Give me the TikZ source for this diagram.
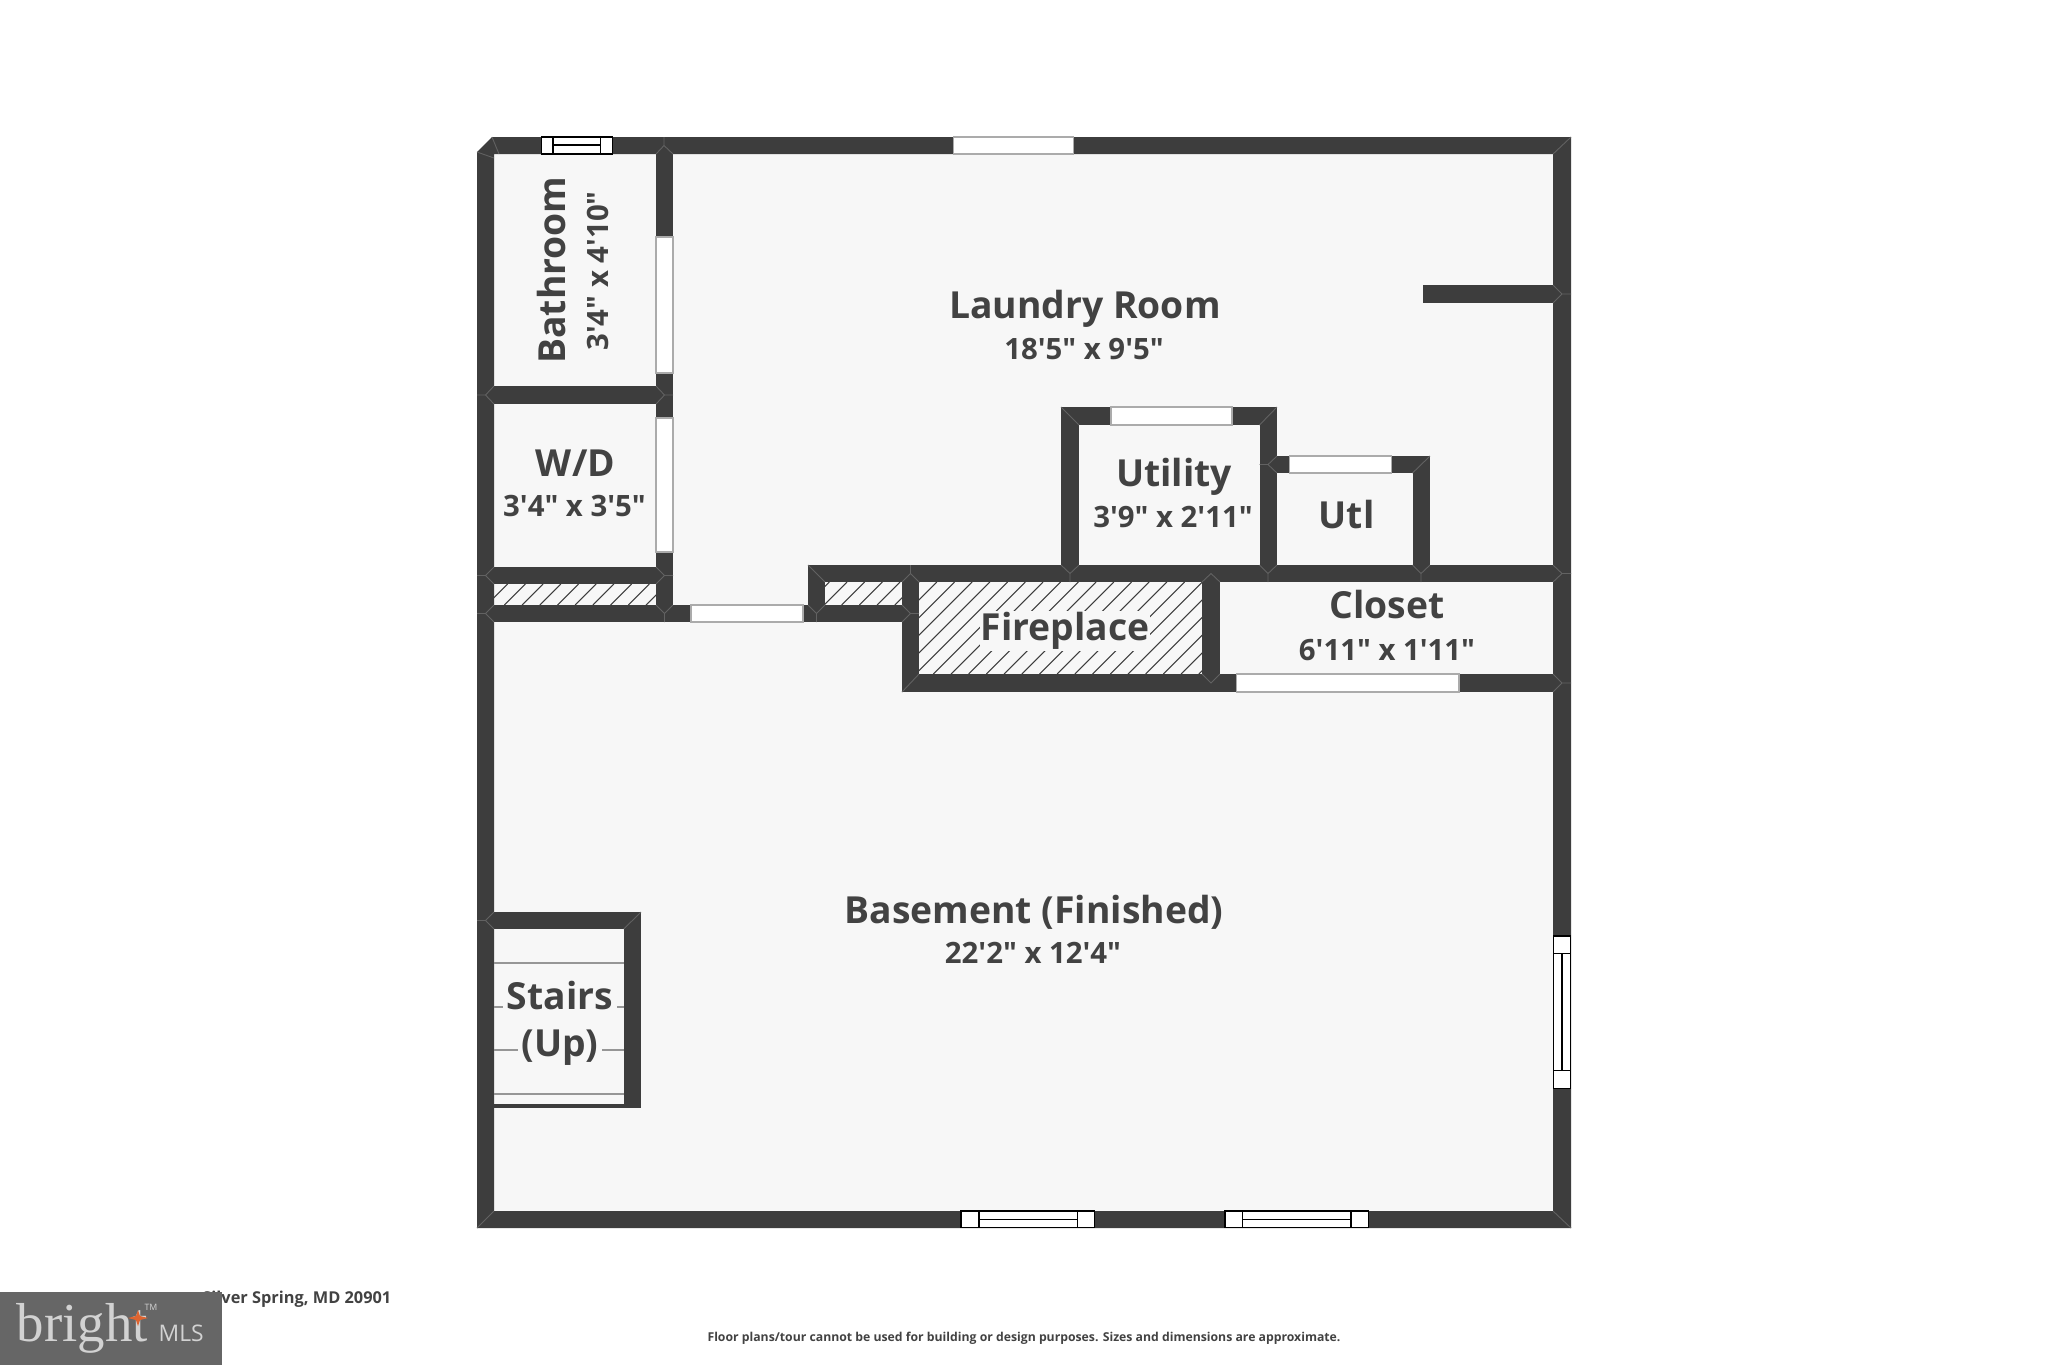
\documentclass[tikz,border=0pt]{standalone}
\usepackage{fontspec}
\newfontfamily\planfont{Open Sans}
\newfontfamily\logofont{Liberation Serif}
\definecolor{wallcol}{HTML}{3D3D3D}
\definecolor{floorcol}{HTML}{F7F7F7}
\definecolor{textcol}{HTML}{424242}
\definecolor{doorcol}{HTML}{ABABAB}
\definecolor{jointcol}{HTML}{626262}
\definecolor{stepcol}{HTML}{969696}
\definecolor{logocol}{HTML}{666666}
\definecolor{logotext}{HTML}{D2D2D2}
\definecolor{logostar}{HTML}{DE6430}
\tikzset{
  wall/.style={fill=wallcol,draw=none},
  joint/.style={draw=jointcol,line width=0.25pt},
  doorway/.style={fill=white,draw=doorcol,line width=0.45pt},
  glass/.style={fill=white,draw=black,line width=0.4pt},
  stair/.style={draw=stepcol,line width=0.6pt},
  hatchline/.style={draw=wallcol,line width=0.3pt},
  roomname/.style={text=textcol,inner sep=0pt,font=\planfont\bfseries\fontsize{10.6}{12}\selectfont},
  roomsize/.style={text=textcol,inner sep=0pt,font=\planfont\bfseries\fontsize{8.35}{10}\selectfont},
}
% one hatched box: x1, y1, x2, y2, start value of x+y
\newcommand{\hatchbox}[5]{
  \begin{scope}
    \clip (#1,#2) rectangle (#3,#4);
    \foreach \hk in {0,...,46} {
      \pgfmathsetmacro{\hs}{#5+17.7*\hk}
      \draw[hatchline] ({\hs-#4},#4) -- ({\hs-#2},#2);
    }
  \end{scope}
}

\begin{document}
\begin{tikzpicture}[x=0.01cm,y=-0.01cm]
        \useasboundingbox (0,0) rectangle (2048,1365);
        % floor
        \fill[floorcol] (477,152) -- (492,137) -- (1571,137) -- (1571,1228) -- (477,1228) -- cycle;
        % hatching
        \hatchbox{494}{584}{656}{605}{1074}
        \hatchbox{825}{582}{902}{605}{1075}
        \hatchbox{919}{582}{1203}{674}{1076.3}
        % outer walls
        \fill[wall] (477,152) -- (492,137) -- (1571,137) -- (1571,1228) -- (477,1228) -- cycle
                    (494,154) -- (494,1211) -- (1553,1211) -- (1553,154) -- cycle;
        % bathroom and washer walls
        \fill[wall] (656,154) rectangle (673,622);
        \fill[wall] (494,386) rectangle (656,404);
        \fill[wall] (494,567) rectangle (656,584);
        \fill[wall] (494,605) rectangle (808,622);
        % walls round the fireplace
        \fill[wall] (808,565) rectangle (825,622);
        \fill[wall] (808,565) rectangle (1553,582);
        \fill[wall] (825,605) rectangle (902,622);
        \fill[wall] (902,565) rectangle (919,692);
        \fill[wall] (902,674) rectangle (1220,692);
        \fill[wall] (1202,565) rectangle (1220,692);
        \fill[wall] (1220,674) rectangle (1553,692);
        % utility closets
        \fill[wall] (1061,407) rectangle (1277,425);
        \fill[wall] (1061,407) rectangle (1079,565);
        \fill[wall] (1259.5,407) rectangle (1277,565);
        \fill[wall] (1277,456) rectangle (1430,473);
        \fill[wall] (1412.5,456) rectangle (1430,565);
        % stub and stairs
        \fill[wall] (1423,285) rectangle (1553,303);
        \fill[wall] (494,912) rectangle (641,929);
        \fill[wall] (623.7,912) rectangle (641,1108);
        \fill[wall] (494,1104) rectangle (641,1108);
        % stair treads
        \draw[stair] (494,962.7) -- (623.7,962.7);
        \draw[stair] (494,1006.7) -- (623.7,1006.7);
        \draw[stair] (494,1050) -- (623.7,1050);
        \draw[stair] (494,1093.7) -- (623.7,1093.7);
        % joints in the walls
        \draw[joint] (1553,154) -- (1571,137) (494,1211) -- (477,1228) (1553,1211) -- (1571,1228)
          (664,137) -- (664,145.5) (656,154) -- (664,145.5) -- (673,154)
          (477,395) -- (485.5,395) (494,386) -- (485.5,395) -- (494,404)
          (656,386) -- (664.5,395) -- (656,404) (664.5,395) -- (673,395)
          (477,575.5) -- (485.5,575.5) (494,567) -- (485.5,575.5) -- (494,584)
          (656,567) -- (664.5,575.5) -- (656,584) (664.5,575.5) -- (673,575.5)
          (477,613.5) -- (485.5,613.5) (494,605) -- (485.5,613.5) -- (494,622)
          (656,605) -- (664.5,613.5) -- (673,605) (664.5,613.5) -- (664.5,622)
          (808,565) -- (825,582) (825,605) -- (816.5,613.5) -- (808,605) (816.5,613.5) -- (816.5,622)
          (910.5,565) -- (910.5,573.5) (902,582) -- (910.5,573.5) -- (919,582)
          (902,605) -- (910.5,613.5) -- (902,622) (910.5,613.5) -- (919,613.5)
          (902,692) -- (919,674)
          (1202,582) -- (1211,573.5) -- (1220,582) (1202,674) -- (1211,683) -- (1220,674)
          (1061,565) -- (1070,573.5) -- (1079,565) (1070,573.5) -- (1070,582)
          (1259.5,565) -- (1268,573.5) -- (1277,565) (1268,573.5) -- (1268,582)
          (1412.5,565) -- (1421,573.5) -- (1430,565) (1421,573.5) -- (1421,582)
          (1553,565) -- (1562,573.5) -- (1553,582) (1562,573.5) -- (1571,573.5)
          (1553,674) -- (1562,683) -- (1553,692) (1562,683) -- (1571,683)
          (1553,285) -- (1562,294) -- (1553,303) (1562,294) -- (1571,294)
          (1061,407) -- (1079,425) (1277,407) -- (1259.5,425)
          (1430,456) -- (1412.5,473) (1277,456) -- (1268,464.5) -- (1277,473) (1259.5,464.5) -- (1268,464.5)
          (477,920.5) -- (485.5,920.5) (494,912) -- (485.5,920.5) -- (494,929) (641,912) -- (623.7,929)
          (492,137) -- (499,154) (477,152) -- (494,158);
        % doorways
        \draw[doorway] (656,237) rectangle (673,373);
        \draw[doorway] (656,418) rectangle (673,552);
        \draw[doorway] (691,605) rectangle (803,622);
        \draw[doorway] (953.3,137) rectangle (1073.3,154);
        \draw[doorway] (1110.8,407) rectangle (1232.2,425);
        \draw[doorway] (1289.4,456) rectangle (1391.6,473);
        \draw[doorway] (1236.3,674) rectangle (1459,692);
        % windows
        \draw[glass] (541.7,137) rectangle (612.3,154);
        \draw[glass] (553,137) -- (553,154) (600.7,137) -- (600.7,154) (553,145) -- (600.7,145);
        \draw[glass] (961.1,1211) rectangle (1094.6,1227.7);
        \draw[glass] (978.8,1211) -- (978.8,1227.7) (1077.3,1211) -- (1077.3,1227.7) (978.8,1219.3) -- (1077.3,1219.3);
        \draw[glass] (1225,1211) rectangle (1368.6,1227.7);
        \draw[glass] (1242.7,1211) -- (1242.7,1227.7) (1350.9,1211) -- (1350.9,1227.7) (1242.7,1219.3) -- (1350.9,1219.3);
        \draw[glass] (1553.3,936) rectangle (1570.2,1088.3);
        \draw[glass] (1553.3,953.7) -- (1570.2,953.7) (1553.3,1070.7) -- (1570.2,1070.7) (1562,953.7) -- (1562,1070.7);
        % room labels
        \node[roomname] (laundry) at (1085,309) {Laundry Room};
        \node[roomsize] (laundrysize) at (1084,349) {18'5" x 9'5"};
        \node[roomname,rotate=90] (bath) at (552,270) {Bathroom};
        \node[roomsize,rotate=90] (bathsize) at (597.5,271) {3'4" x 4'10"};
        \node[roomname] (wd) at (575.5,463) {W/D};
        \node[roomsize] (wdsize) at (574.5,506) {3'4" x 3'5"};
        \node[roomname] (utility) at (1174,477) {Utility};
        \node[roomsize] (utilitysize) at (1173,517) {3'9" x 2'11"};
        \node[roomname] (utl) at (1346.5,514) {Utl};
        \node[roomname] (closet) at (1387,604.5) {Closet};
        \node[roomsize] (closetsize) at (1387,650) {6'11" x 1'11"};
        \node[roomname,fill=floorcol,inner sep=0.3pt] (fireplace) at (1065,631) {Fireplace};
        \node[roomname,fill=floorcol,inner sep=1pt] (stairs) at (560,995) {Stairs};
        \node[roomname,fill=floorcol,inner sep=1pt] (up) at (560,1048) {(Up)};
        \node[roomname] (basement) at (1034,912) {Basement (Finished)};
        \node[roomsize] (basementsize) at (1033,953) {22'2" x 12'4"};
        % footer
        \node[text=textcol,inner sep=0pt,anchor=base east,font=\planfont\bfseries\fontsize{4.65}{6}\selectfont] (address) at (392,1303) {Silver Spring, MD 20901};
        \node[text=textcol,inner sep=0pt,font=\planfont\bfseries\fontsize{3.48}{5}\selectfont] (disclaimer) at (1024,1338) {Floor plans/tour cannot be used for building or design purposes. Sizes and dimensions are approximate.};
        % logo
        \fill[logocol] (0,1292) rectangle (222,1365);
        \node[text=logotext,inner sep=0pt,anchor=base west,font=\logofont\fontsize{15.6}{18}\selectfont] (bright) at (16,1341) {bright};
        \node[text=logotext,inner sep=0pt,anchor=base west,font=\planfont\fontsize{6.5}{8}\selectfont] (mls) at (158,1341) {MLS};
        \node[text=logotext,inner sep=0pt,font=\planfont\fontsize{2.5}{3}\selectfont] (tm) at (151,1307) {TM};
        \fill[logostar] (138,1310) -- (140,1316) -- (148,1318) -- (140,1320) -- (138,1326) -- (136,1320) -- (128,1318) -- (136,1316) -- cycle;
     \end{tikzpicture}
\end{document}
